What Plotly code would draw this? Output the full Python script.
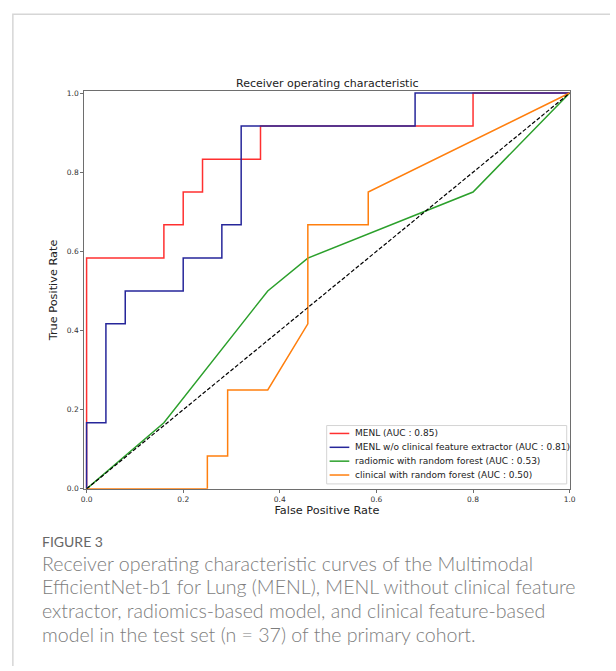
import plotly.graph_objects as go

W, H = 616, 671

# ---- data ----
menl_fpr = [0.0, 0.0, 0.16, 0.16, 0.20, 0.20, 0.24, 0.24, 0.36, 0.36, 0.80, 0.80, 1.0]
menl_tpr = [0.0, 0.583, 0.583, 0.667, 0.667, 0.75, 0.75, 0.833, 0.833, 0.917, 0.917, 1.0, 1.0]

noclin_fpr = [0.0, 0.0, 0.04, 0.04, 0.08, 0.08, 0.20, 0.20, 0.28, 0.28, 0.32, 0.32, 0.68, 0.68, 1.0]
noclin_tpr = [0.0, 0.167, 0.167, 0.417, 0.417, 0.5, 0.5, 0.583, 0.583, 0.667, 0.667, 0.917, 0.917, 1.0, 1.0]

radio_fpr = [0.0, 0.16, 0.375, 0.458, 0.80, 1.0]
radio_tpr = [0.0, 0.167, 0.5, 0.583, 0.75, 1.0]

clin_fpr = [0.0, 0.25, 0.25, 0.292, 0.292, 0.375, 0.458, 0.458, 0.583, 0.583, 1.0]
clin_tpr = [0.0, 0.0, 0.083, 0.083, 0.25, 0.25, 0.417, 0.667, 0.667, 0.75, 1.0]

chance = [0.0, 1.0]

series_names = [
    "MENL (AUC : 0.85)",
    "MENL w/o clinical feature extractor (AUC : 0.81)",
    "radiomic with random forest (AUC : 0.53)",
    "clinical with random forest (AUC : 0.50)",
]
tick_vals = [0.0, 0.2, 0.4, 0.6, 0.8, 1.0]

caption_head = "FIGURE 3"
caption_lines = [
    "Receiver operating characteristic curves of the Multimodal",
    "EfficientNet-b1 for Lung (MENL), MENL without clinical feature",
    "extractor, radiomics-based model, and clinical feature-based",
    "model in the test set (n = 37) of the primary cohort.",
]

colors = ["#ff3030", "#26269a", "#2ca02c", "#ff7f0e"]

# ---- figure ----
fig = go.Figure()
series = [(menl_fpr, menl_tpr), (noclin_fpr, noclin_tpr), (radio_fpr, radio_tpr), (clin_fpr, clin_tpr)]
for (xs, ys), name, col in zip(series, series_names, colors):
    fig.add_trace(go.Scatter(x=xs, y=ys, mode="lines", name=name, showlegend=False,
                             line=dict(color=col, width=1.5)))
fig.add_trace(go.Scatter(x=chance, y=chance, mode="lines", showlegend=False,
                         line=dict(color="black", width=1.2, dash="4px,2px")))


def px_x(p):
    return p / W


def px_y(p):
    return 1 - p / H


axis_common = dict(
    showgrid=False, zeroline=False, showline=True, mirror=True,
    linecolor="#6e6e6e", linewidth=1,
    ticks="outside", ticklen=3, tickwidth=1, tickcolor="#6e6e6e",
    tickvals=tick_vals, tickformat=".1f",
    tickfont=dict(family="DejaVu Sans", size=7.5, color="#333333"),
)

fx, fy = px_x(9), px_y(12.5)
shapes = [
    # outer figure frame (left and top edges)
    dict(type="path", xref="paper", yref="paper",
         path=f"M {fx},0 L {fx},{fy} L 1,{fy}",
         line=dict(color="#d6d6d6", width=1.5), layer="below"),
    # legend box
    dict(type="rect", xref="paper", yref="paper",
         x0=px_x(328), x1=px_x(572), y0=px_y(487), y1=px_y(428),
         line=dict(color="#d4d4d4", width=1), fillcolor="rgba(255,255,255,0.9)", layer="above"),
]
annotations = [
    dict(text="Receiver operating characteristic", xref="paper", yref="paper",
         x=px_x(328.5), y=px_y(82), xanchor="center", yanchor="middle", showarrow=False,
         font=dict(family="DejaVu Sans", size=11, color="#222222")),
    dict(text=caption_head, xref="paper", yref="paper",
         x=px_x(37), y=px_y(545), xanchor="left", yanchor="middle", showarrow=False,
         font=dict(family="Lato", size=14, color="#666666")),
]
for i, line in enumerate(caption_lines):
    annotations.append(dict(text=line, xref="paper", yref="paper",
                            x=px_x(37), y=px_y(567 + 24 * i), xanchor="left", yanchor="middle",
                            showarrow=False,
                            font=dict(family="Lato", size=19.6, color="#7d7d7d", weight=300)))

# legend entries
for i, (name, col) in enumerate(zip(series_names, colors)):
    yc = 436 + 14 * i
    shapes.append(dict(type="line", xref="paper", yref="paper",
                       x0=px_x(331), x1=px_x(351), y0=px_y(yc), y1=px_y(yc),
                       line=dict(color=col, width=1.5), layer="above"))
    annotations.append(dict(text=name, xref="paper", yref="paper",
                            x=px_x(355), y=px_y(yc), xanchor="left", yanchor="middle",
                            showarrow=False,
                            font=dict(family="DejaVu Sans", size=9, color="#222222")))

fig.update_layout(
    width=W, height=H, autosize=False,
    margin=dict(l=0, r=0, t=0, b=0),
    paper_bgcolor="white", plot_bgcolor="white",
    xaxis=dict(axis_common, range=[-0.005, 1.0],
               domain=[px_x(81.5), px_x(575)],
               title=dict(text="False Positive Rate",
                          font=dict(family="DejaVu Sans", size=11.3, color="#222222"),
                          standoff=3)),
    yaxis=dict(axis_common, range=[0.0, 1.005],
               domain=[px_y(492), px_y(90)],
               title=dict(text="True Positive Rate",
                          font=dict(family="DejaVu Sans", size=11.3, color="#222222"),
                          standoff=6)),
    showlegend=False,
    hovermode=False,
    shapes=shapes,
    annotations=annotations,
)

post = """
document.documentElement.style.margin='0px';
document.documentElement.style.padding='0px';
document.documentElement.style.overflow='hidden';
document.documentElement.style.background='white';
document.body.style.margin='0px';
document.body.style.padding='0px';
document.body.style.overflow='hidden';
document.body.style.background='white';
"""

fig.write_html(
    "out.html",
    config={"displayModeBar": False, "staticPlot": True},
    post_script=post,
)
